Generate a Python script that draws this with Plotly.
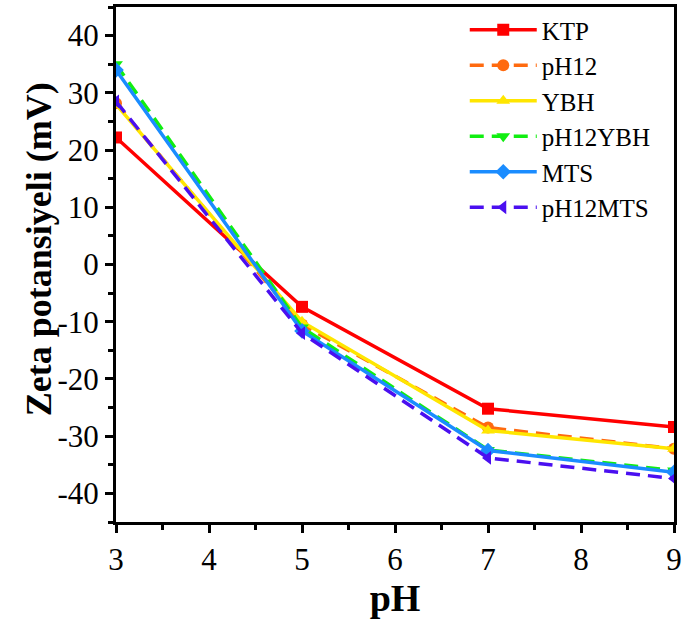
import plotly.graph_objects as go

ph = [3, 5, 7, 9]
ktp = [22.2, -7.4, -25.2, -28.4]
ph12 = [28.2, -10.5, -28.5, -32.2]
ybh = [28.0, -10.0, -29.0, -32.2]
ph12ybh = [35.0, -11.0, -32.4, -36.0]
mts = [34.0, -11.6, -32.5, -36.3]
ph12mts = [28.5, -12.0, -33.8, -37.4]

x_ticks = [3, 4, 5, 6, 7, 8, 9]
y_ticks = [40, 30, 20, 10, 0, -10, -20, -30, -40]
y_ticklabels = ["40", "30", "20", "10", "0", "-10", "-20", "-30", "-40"]

series = [
    ("KTP", ktp, "#ff0000", "square", "solid"),
    ("pH12", ph12, "#ff6a0f", "circle", "14px,8px"),
    ("YBH", ybh, "#ffe600", "triangle-up", "solid"),
    ("pH12YBH", ph12ybh, "#11ee11", "triangle-down", "14px,8px"),
    ("MTS", mts, "#1a8cff", "diamond", "solid"),
    ("pH12MTS", ph12mts, "#4a0ff0", "triangle-left", "14px,8px"),
]

fig = go.Figure()
for name, vals, col, sym, dash in series:
    fig.add_trace(go.Scatter(
        x=ph, y=vals, name=name, mode="lines+markers",
        line=dict(color=col, width=3.5, dash=dash),
        marker=dict(symbol=sym, size=12, color=col),
    ))

font = "Liberation Serif"
fig.update_layout(
    width=686, height=621,
    margin=dict(l=116, r=7, t=4, b=99),
    plot_bgcolor="white", paper_bgcolor="white",
    font=dict(family=font, color="black", size=25),
    legend=dict(x=0.625, y=1.0, xanchor="left", yanchor="top",
                bgcolor="rgba(0,0,0,0)", font=dict(size=25, family=font),
                tracegroupgap=0, itemwidth=67),
    xaxis=dict(
        range=[3, 9], tickvals=x_ticks,
        ticks="outside", ticklen=8, tickwidth=3, tickcolor="black",
        showline=True, linewidth=3, linecolor="black", mirror=True,
        showgrid=False, zeroline=False, ticklabeloverflow="allow",
        tickfont=dict(size=31, family=font),
        minor=dict(ticks="outside", ticklen=5, tickwidth=3, dtick=0.5, tickcolor="black", showgrid=False),
        title=dict(text="<b>pH</b>", font=dict(size=38, family=font), standoff=4),
    ),
    yaxis=dict(
        range=[-45, 45], tickvals=y_ticks, ticktext=y_ticklabels,
        ticks="outside", ticklen=8, tickwidth=3, tickcolor="black",
        showline=True, linewidth=3, linecolor="black", mirror=True,
        showgrid=False, zeroline=False,
        tickfont=dict(size=31, family=font),
        minor=dict(ticks="outside", ticklen=5, tickwidth=3, dtick=5, tickcolor="black", showgrid=False),
    ),
    annotations=[dict(
        text="<b>Zeta potansiyeli (mV)</b>", xref="paper", yref="paper",
        x=(38 - 116) / 563, y=(522 - 248) / 518, xanchor="center", yanchor="middle",
        textangle=-90, showarrow=False, font=dict(size=36, family=font, color="black"),
    )],
)

fig.write_html("out.html")
